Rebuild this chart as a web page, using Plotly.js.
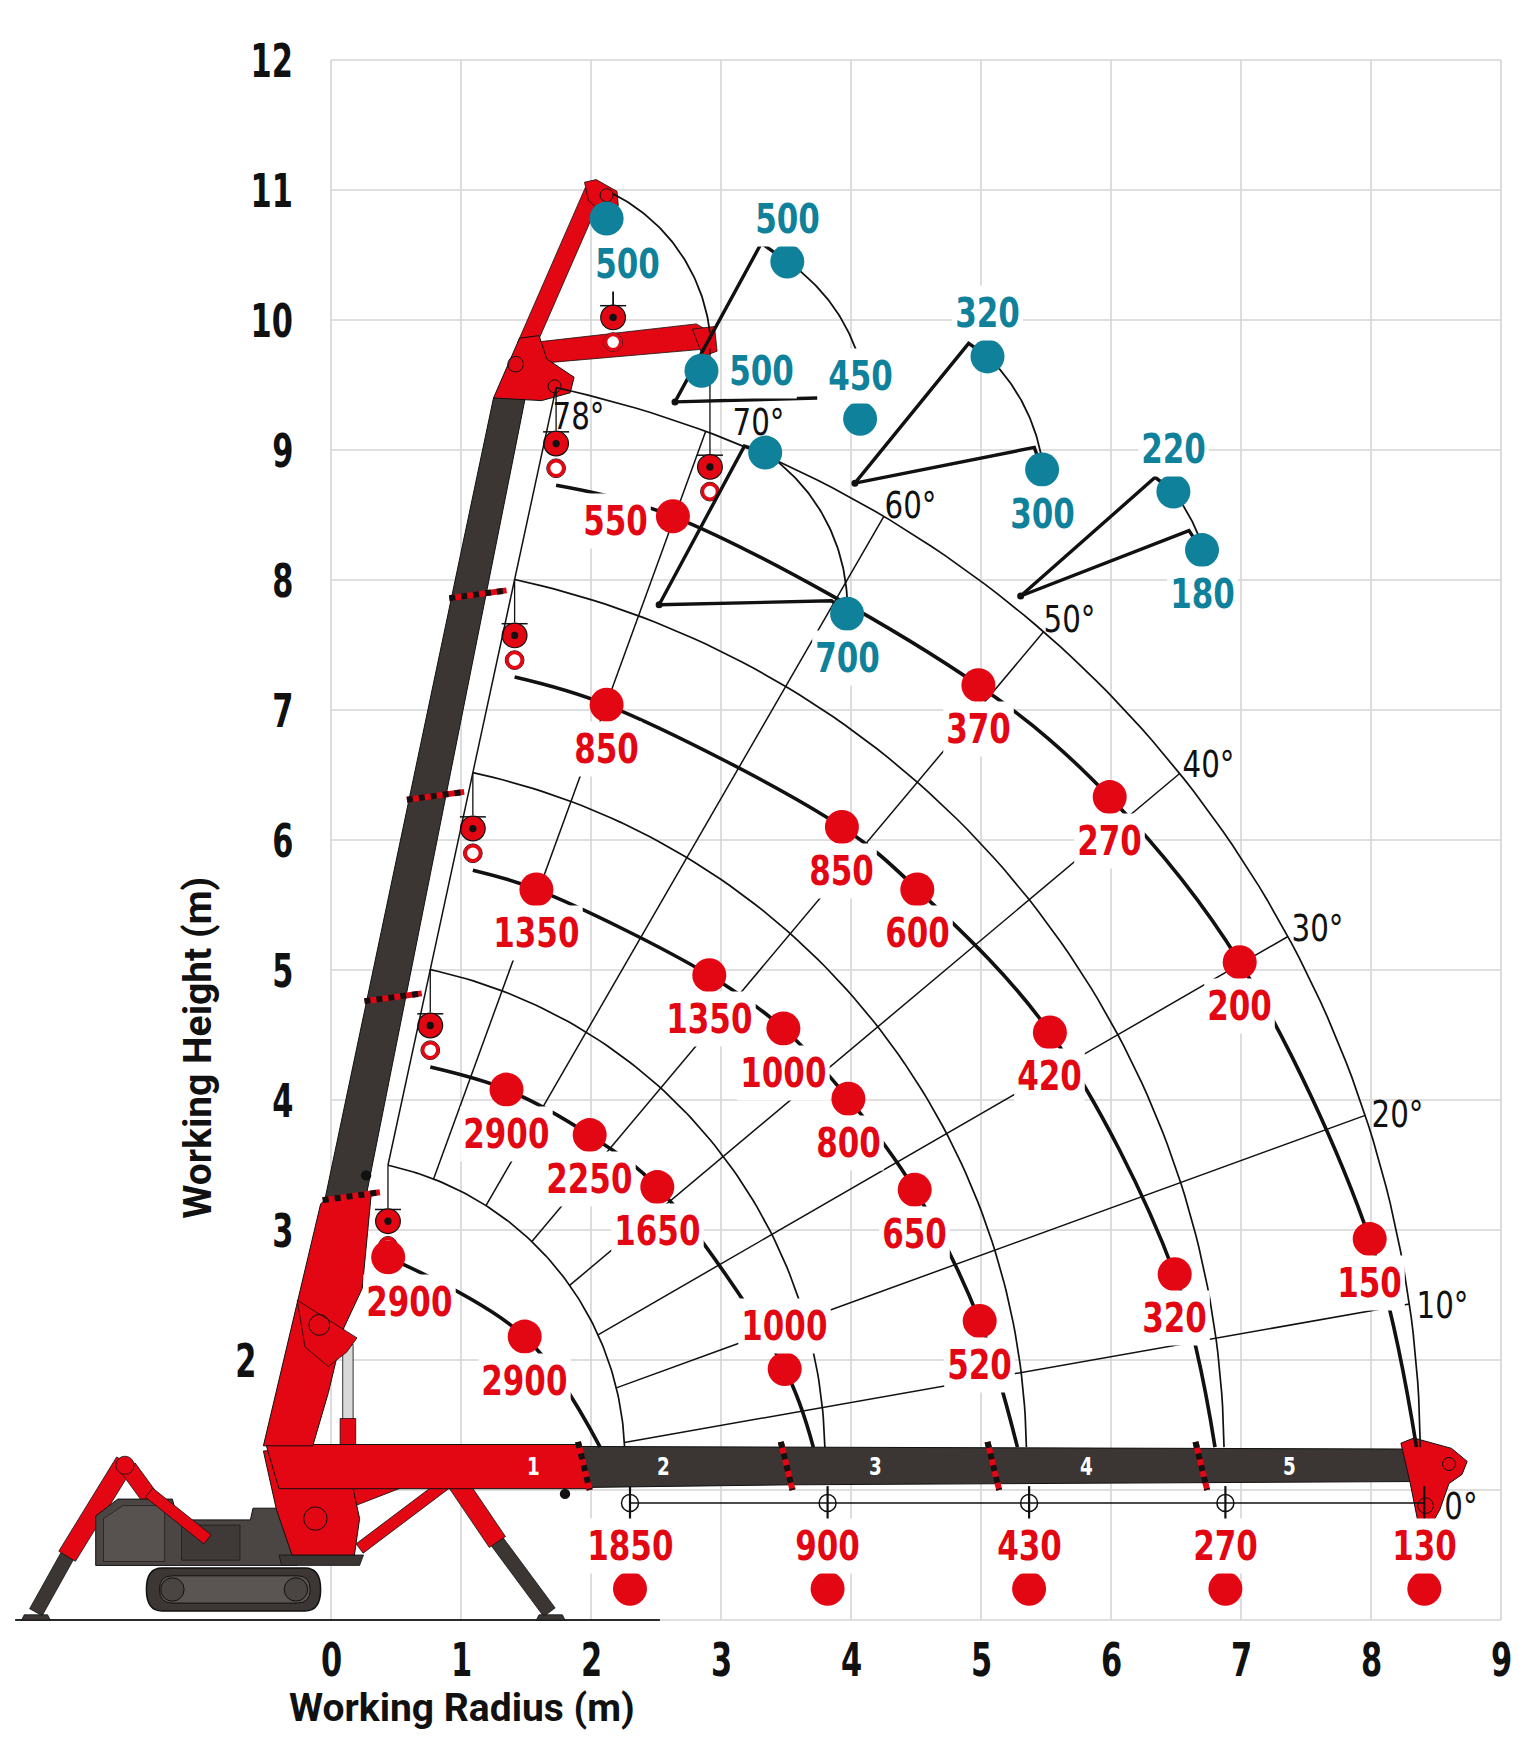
<!DOCTYPE html>
<html><head><meta charset="utf-8">
<script src="https://cdn.plot.ly/plotly-3.0.1.min.js"></script>
<style>html,body{margin:0;padding:0;background:#fff}#chart{width:1538px;height:1740px}</style>
</head><body><div id="chart"></div>
<script>
// ================= DATA =================
const radiusTicks = [0,1,2,3,4,5,6,7,8,9];
const heightTicks = [2,3,4,5,6,7,8,9,10,11,12];

// loads on each boom extension (kg) at working radius / height (m)
const ext1Radius = [0.44, 1.49];
const ext1Height = [2.79, 2.18];
const ext1Load   = [2900, 2900];
const ext2Radius = [1.35, 1.99, 2.51, 3.49];
const ext2Height = [4.08, 3.73, 3.33, 1.93];
const ext2Load   = [2900, 2250, 1650, 1000];
const ext3Radius = [1.58, 2.91, 3.48, 3.98, 4.49, 4.99];
const ext3Height = [5.62, 4.96, 4.55, 4.01, 3.31, 2.30];
const ext3Load   = [1350, 1350, 1000, 800, 650, 520];
const ext4Radius = [2.12, 3.93, 4.51, 5.53, 6.49];
const ext4Height = [7.04, 6.10, 5.62, 4.52, 2.66];
const ext4Load   = [850, 850, 600, 420, 320];
const ext5Radius = [2.63, 4.98, 5.99, 6.99, 7.99];
const ext5Height = [8.49, 7.19, 6.33, 5.06, 2.93];
const ext5Load   = [550, 370, 270, 200, 150];

// boom horizontal (0°) loads
const flatRadius = [2.30, 3.82, 5.37, 6.88, 8.41];
const flatHeight = [0.24, 0.24, 0.24, 0.24, 0.24];
const flatLoad   = [1850, 900, 430, 270, 130];

// jib (fly) loads
const jibRadius = [2.12, 2.85, 3.51, 4.07, 3.34, 3.97, 5.05, 5.47, 6.48, 6.70];
const jibHeight = [10.78, 9.61, 10.45, 9.24, 8.98, 7.74, 9.72, 8.85, 8.68, 8.23];
const jibLoad   = [500, 500, 500, 450, null, 700, 320, 300, 220, 180];

// boom geometry (m)
const boomRadii   = [2.31, 3.85, 5.40, 6.92, 8.43];
const hookPathEnd = [2.07, 3.71, 5.28, 6.80, 8.35];
const angleSteps  = [10, 20, 30, 40, 50, 60, 70];
const angleLabelX = [8.55, 8.20, 7.59, 6.75, 5.68, 4.46, 3.29];
const angleLabelY = [2.42, 3.89, 5.32, 6.58, 7.70, 8.57, 9.21];
const sectionNames = ['1','2','3','4','5'];
const sectionLabelX = [1.56, 2.56, 4.19, 5.81, 7.37];

// jib configurations
const jibPivotX = [2.646, 4.03, 5.305, 2.524];
const jibPivotY = [9.37, 8.745, 7.877, 7.81];
const jibTipX   = [3.31, 4.905, 6.34, 3.18];
const jibTipY   = [10.59, 9.82, 8.79, 9.03];
const jibFoldX  = [3.74, 5.41, 6.60, 3.85];
const jibFoldY  = [9.40, 9.02, 8.38, 7.84];
const jibUpperIdx = [2, 6, 8, 4];
const jibLowerIdx = [null, 7, 9, 5];
const jibArcEndX = [4.06, 5.47, 6.69, 3.97];
const jibArcEndY = [9.71, 8.92, 8.30, 7.86];

// label placement (b below, a above, l left, r right, br below-right)
const ext1Place = ['br','b'];
const ext2Place = ['b','b','b','a'];
const ext3Place = ['b','b','b','b','b','b'];
const ext4Place = ['b','b','b','b','b'];
const ext5Place = ['l','b','b','b','b'];
const flatPlace = ['a','a','a','a','a'];
const jibPlace  = ['br','r','a','a','','b','a','b','a','b'];

// ================= STYLE / HELPERS =================
const RED = '#e30613', TEAL = '#10819a', DARK = '#3b3634', GRID = '#d5d5d5', INK = '#111111';
const FONT_N = 'Liberation Sans Narrow, DejaVu Sans Condensed, Arial Narrow, Roboto, sans-serif';
const FONT_T = 'Roboto, Open Sans, Liberation Sans, sans-serif';
const ARC_C = [-0.05, 1.24], RAY_O = [-0.1, 0.95], TOP_ANG = 77.8, BOOM_TOP = 1.33;
const D2R = Math.PI / 180;

const shapes = [], annotations = [], annScale = [], data = [];
function f(v){return v.toFixed(3);}
function poly(pts){return 'M' + pts.map(p => f(p[0]) + ',' + f(p[1])).join(' L') + ' Z';}
function bar(a, b, w){const dx=b[0]-a[0], dy=b[1]-a[1], L=Math.hypot(dx,dy), nx=-dy/L*w/2, ny=dx/L*w/2;
  return poly([[a[0]+nx,a[1]+ny],[b[0]+nx,b[1]+ny],[b[0]-nx,b[1]-ny],[a[0]-nx,a[1]-ny]]);}
function addPath(path, fill, lc, lw){shapes.push({type:'path', xref:'x', yref:'y', path, fillcolor:fill,
  line:{color:lc || 'rgba(0,0,0,0)', width: lw || 0}, layer:'below'});}
function addLine(x0,y0,x1,y1,color,w,dash){shapes.push({type:'line', xref:'x', yref:'y', x0,y0,x1,y1,
  line:{color, width:w, dash: dash || 'solid'}, layer:'below'});}
function addCircle(cx,cy,r,fill,lc,lw){shapes.push({type:'circle', xref:'x', yref:'y', x0:cx-r, x1:cx+r, y0:cy-r, y1:cy+r,
  fillcolor:fill, line:{color:lc || 'rgba(0,0,0,0)', width: lw || 0}, layer:'below'});}
function addText(x,y,text,opts,scale,origin){annotations.push(Object.assign({x, y, xref:'x', yref:'y', text, showarrow:false,
  xanchor:'center', yanchor:'middle'}, opts)); annScale.push([scale || 1, origin || '50% 50%']);}
function lineTrace(xs, ys, w, color, shape){const t = {type:'scatter', mode:'lines', x:xs, y:ys,
  line:{color: color || INK, width:w, shape: shape || 'linear'}, hoverinfo:'skip', showlegend:false};
  if (shape === 'spline') t.line.smoothing = 1; data.push(t);}
function circleHit(o, d, c, r){const fx=o[0]-c[0], fy=o[1]-c[1]; const b=fx*d[0]+fy*d[1]; const cc=fx*fx+fy*fy-r*r;
  return -b + Math.sqrt(b*b - cc);}
function arcBetween(c, p0, p1, n){const r0=Math.hypot(p0[0]-c[0],p0[1]-c[1]), r1=Math.hypot(p1[0]-c[0],p1[1]-c[1]);
  const a0=Math.atan2(p0[1]-c[1],p0[0]-c[0]), a1=Math.atan2(p1[1]-c[1],p1[0]-c[0]); const xs=[], ys=[];
  for(let i=0;i<=n;i++){const t=i/n, a=a0+(a1-a0)*t, r=r0+(r1-r0)*t; xs.push(c[0]+r*Math.cos(a)); ys.push(c[1]+r*Math.sin(a));}
  return [xs, ys];}

// ================= GRID =================
radiusTicks.forEach(v => addLine(v, 0, v, 12, GRID, 1.6));
for (let v = 0; v <= 12; v++) addLine(0, v, 9, v, GRID, 1.6);
addLine(-2.43, 0, 2.53, 0, '#2b2b2b', 2);

// ================= CRANE ILLUSTRATION =================
// left outrigger
addPath(bar([-2.03,0.49],[-2.27,0.06],0.11), DARK, INK, 0.8);
addPath(bar([-1.585,1.215],[-2.03,0.49],0.15), RED, INK, 0.8);
addPath(poly([[-2.38,0.0],[-2.16,0.0],[-2.18,0.04],[-2.36,0.04]]), DARK, INK, 0.8);
addPath(bar([-1.56,1.17],[-1.05,0.47],0.13), RED, INK, 0.8);
// engine body
addPath(poly([[-1.81,0.42],[-1.81,0.80],[-1.64,0.93],[-1.22,0.93],[-1.18,0.77],[-0.62,0.77],[-0.60,0.86],[-0.40,0.86],[-0.38,0.77],[-0.28,0.77],[-0.26,0.42]]), '#4b4644', INK, 1);
addPath(poly([[-1.75,0.45],[-1.75,0.78],[-1.60,0.88],[-1.28,0.88],[-1.28,0.45]]), '#57514f', INK, 0.6);
addPath(poly([[-1.15,0.46],[-1.15,0.73],[-0.70,0.73],[-0.70,0.46]]), '#3f3a38', INK, 0.6);
addPath(bar([-1.40,0.98],[-0.95,0.62],0.09), RED, INK, 0.8);
addCircle(-1.585,1.19,0.07,RED,INK,0.8);
// tracks
addPath('M -1.30,0.07 L -0.20,0.07 Q -0.08,0.07 -0.08,0.235 Q -0.08,0.40 -0.20,0.40 L -1.30,0.40 Q -1.42,0.40 -1.42,0.235 Q -1.42,0.07 -1.30,0.07 Z', '#3c3735', INK, 1.5);
addPath('M -1.22,0.13 L -0.26,0.13 Q -0.16,0.13 -0.16,0.235 Q -0.16,0.34 -0.26,0.34 L -1.22,0.34 Q -1.32,0.34 -1.32,0.235 Q -1.32,0.13 -1.22,0.13 Z', '#5a5452', INK, 1);
addCircle(-1.22,0.235,0.09,'#4a4442',INK,1);
addCircle(-0.27,0.235,0.09,'#4a4442',INK,1);
// right outrigger
addPath(bar([0.22,0.55],[0.95,1.10],0.09), RED, INK, 0.8);
addPath(bar([1.28,0.60],[1.68,0.06],0.11), DARK, INK, 0.8);
addPath(bar([0.86,1.22],[1.28,0.60],0.15), RED, INK, 0.8);
addPath(poly([[1.58,0],[1.80,0],[1.78,0.04],[1.60,0.04]]), DARK, INK, 0.8);
addPath(bar([0.15,0.93],[0.90,1.22],0.12), RED, INK, 0.8);
addCircle(0.88,1.19,0.07,RED,INK,0.8);
// turret
addPath(poly([[-0.40,0.50],[0.25,0.50],[0.22,0.42],[-0.38,0.42]]), DARK, INK, 0.8);
addPath(poly([[-0.52,1.30],[-0.42,0.85],[-0.30,0.50],[0.18,0.50],[0.22,0.78],[0.17,1.01],[0.02,1.33]]), RED, INK, 1);
addCircle(-0.12,0.78,0.09,'rgba(0,0,0,0)',INK,1);
// luffing cylinder
addPath(poly([[0.09,1.53],[0.17,1.53],[0.17,2.12],[0.09,2.12]]), '#d9d9d9', '#333', 1);
addPath(poly([[0.07,1.33],[0.19,1.33],[0.19,1.55],[0.07,1.55]]), RED, INK, 0.8);
// horizontal boom (0°)
addPath(poly([[1.88,1.335],[8.30,1.315],[8.30,1.065],[3.55,1.04],[1.98,1.02]]), DARK, INK, 1);
addPath(poly([[-0.50,1.35],[1.92,1.35],[2.00,1.01],[-0.40,1.01]]), RED, INK, 1);
[1.90, 3.46, 5.05, 6.65].forEach(x => { addLine(x, 1.37, x+0.09, 1.0, RED, 6); addLine(x, 1.37, x+0.09, 1.0, INK, 6, 'dot'); });
addPath(poly([[8.23,1.36],[8.33,1.40],[8.62,1.32],[8.74,1.22],[8.70,1.12],[8.60,1.05],[8.53,0.85],[8.48,0.76],[8.36,0.76],[8.30,1.06]]), RED, INK, 1);
addCircle(8.60,1.20,0.05,'rgba(0,0,0,0)',INK,1);
addCircle(8.42,0.88,0.06,'rgba(0,0,0,0)',INK,1);
addCircle(1.80,0.97,0.04,INK,INK,0);
// upright boom
addPath(poly([[-0.52,1.34],[-0.08,3.20],[0.02,3.30],[0.31,3.28],[0.24,2.55],[0.10,2.25],[-0.02,1.75],[-0.14,1.34]]), RED, INK, 1);
addPath(poly([[-0.26,2.46],[0.20,2.17],[0.12,2.06],[-0.02,1.95],[-0.20,2.10]]), RED, INK, 0.8);
addCircle(-0.09,2.27,0.08,'rgba(0,0,0,0)',INK,1);
addPath(poly([[-0.05,3.22],[1.25,9.40],[1.50,9.43],[0.27,3.26]]), DARK, INK, 1);
addCircle(0.27,3.42,0.04,INK,INK,0);
[3.25, 4.78, 6.33, 7.88].forEach(y => { const xl = -0.05 + (y-3.22)*(1.30/6.18);
  addLine(xl-0.02, y-0.02, xl+0.42, y+0.04, RED, 6); addLine(xl-0.02, y-0.02, xl+0.42, y+0.04, INK, 6, 'dot'); });
// boom head and jib
addPath(bar([1.50,9.80],[2.02,10.99],0.14), RED, INK, 0.8);
addPath(poly([[1.95,11.06],[2.04,11.08],[2.20,10.99],[2.21,10.88],[2.08,10.83],[1.98,10.92]]), RED, INK, 0.8);
addCircle(2.12,10.96,0.05,'rgba(0,0,0,0)',INK,1);
addPath(poly([[1.58,9.83],[2.81,9.97],[2.93,9.90],[2.92,9.78],[1.65,9.67]]), RED, INK, 0.8);
addPath(poly([[2.78,9.93],[2.95,9.95],[2.97,9.76],[2.86,9.72]]), RED, INK, 0.8);
addPath(poly([[1.25,9.40],[1.45,9.86],[1.60,9.88],[1.66,9.70],[1.87,9.56],[1.84,9.44],[1.62,9.38]]), RED, INK, 1);
addCircle(1.42,9.66,0.06,'rgba(0,0,0,0)',INK,1);
addCircle(1.72,9.49,0.05,'rgba(0,0,0,0)',INK,1);

// hooks (blocks on ropes)
const tops = boomRadii.map(R => [ARC_C[0] + R*Math.cos(TOP_ANG*D2R), ARC_C[1] + R*Math.sin(TOP_ANG*D2R)]);
function hook(x, yc){
  addLine(x-0.10, yc+0.09, x+0.10, yc+0.09, INK, 1.5);
  addCircle(x, yc, 0.095, RED, INK, 1.2);
  addCircle(x, yc, 0.028, INK, INK, 0);
  addCircle(x, yc-0.19, 0.072, '#ffffff', INK, 1);
  addCircle(x, yc-0.19, 0.058, '#ffffff', RED, 3.5);
}
tops.forEach(t => hook(t[0], t[1]-0.43));
hook(2.17, 10.02);
hook(2.915, 8.87);

// ================= TRACES =================
// boom-tip arcs
boomRadii.forEach(R => {const a0 = Math.asin((BOOM_TOP-ARC_C[1])/R), a1 = TOP_ANG*D2R, xs=[], ys=[];
  for (let i=0;i<=90;i++){const a=a0+(a1-a0)*i/90; xs.push(ARC_C[0]+R*Math.cos(a)); ys.push(ARC_C[1]+R*Math.sin(a));}
  lineTrace(xs, ys, 1.7);});
// angle rays
angleSteps.forEach(a => {const d=[Math.cos(a*D2R), Math.sin(a*D2R)];
  const t1 = circleHit(RAY_O, d, ARC_C, boomRadii[0]), t5 = circleHit(RAY_O, d, ARC_C, boomRadii[4]);
  lineTrace([RAY_O[0]+t1*d[0], RAY_O[0]+t5*d[0]], [RAY_O[1]+t1*d[1], RAY_O[1]+t5*d[1]], 1.5);});
lineTrace([tops[0][0], tops[4][0]], [tops[0][1], tops[4][1]], 1.5);
// ropes
tops.forEach(t => lineTrace([t[0], t[0]], [t[1], t[1]-0.33], 1.3));
lineTrace([2.915, 2.915], [9.78, 8.97], 1.3);
lineTrace([2.17, 2.17], [10.24, 10.11], 1.8);
// hook load paths
const extR = [ext1Radius, ext2Radius, ext3Radius, ext4Radius, ext5Radius];
const extH = [ext1Height, ext2Height, ext3Height, ext4Height, ext5Height];
extR.forEach((rs, k) => {const hx = tops[k][0], hy = tops[k][1]-0.75; const xs=[], ys=[];
  if (Math.hypot(rs[0]-hx, extH[k][0]-hy) > 0.15){xs.push(hx); ys.push(hy);}
  rs.forEach((r,i)=>{xs.push(r); ys.push(extH[k][i]);});
  xs.push(hookPathEnd[k]); ys.push(BOOM_TOP);
  lineTrace(xs, ys, 3.6, INK, 'spline');});
// jib configurations
{const c=[1.55,9.75]; const a=arcBetween(c,[2.17,10.97],[2.915,9.90],60); lineTrace(a[0],a[1],1.8);}
jibPivotX.forEach((px,i) => {const py = jibPivotY[i], u = jibUpperIdx[i], l = jibLowerIdx[i];
  lineTrace([px, jibTipX[i], jibRadius[u]], [py, jibTipY[i], jibHeight[u]], 3.4);
  const fx=[px, jibFoldX[i]], fy=[py, jibFoldY[i]]; if (l !== null){fx.push(jibRadius[l]); fy.push(jibHeight[l]);}
  lineTrace(fx, fy, 3.4);
  const a = arcBetween([px,py],[jibRadius[u],jibHeight[u]],[jibArcEndX[i],jibArcEndY[i]],50); lineTrace(a[0],a[1],1.8);});
// flat (0°) hook line
lineTrace([flatRadius[0], flatRadius[flatRadius.length-1]], [0.90, 0.90], 1.5);
flatRadius.forEach(x => lineTrace([x, x], [1.03, 0.74], 2.2));
data.push({type:'scatter', mode:'markers', x:flatRadius.slice(0,4), y:flatRadius.slice(0,4).map(()=>0.90),
  marker:{symbol:'circle-open', size:17, color:INK, line:{width:1.5, color:INK}}, hoverinfo:'skip', showlegend:false});
flatRadius.forEach(x => lineTrace([x-0.06, x-0.05, x+0.05, x+0.06], [0.43, 0.37, 0.37, 0.43], 2));
// dots
const allRedR = [].concat(ext1Radius, ext2Radius, ext3Radius, ext4Radius, ext5Radius, flatRadius);
const allRedH = [].concat(ext1Height, ext2Height, ext3Height, ext4Height, ext5Height, flatHeight);
data.push({type:'scatter', mode:'markers', x:allRedR, y:allRedH, marker:{size:34, color:RED}, hoverinfo:'skip', showlegend:false});
data.push({type:'scatter', mode:'markers', x:jibRadius, y:jibHeight, marker:{size:34, color:TEAL}, hoverinfo:'skip', showlegend:false});
data.push({type:'scatter', mode:'markers', x:jibPivotX, y:jibPivotY, marker:{size:7, color:INK}, hoverinfo:'skip', showlegend:false});

// ================= TEXT =================
const SHIFT = {b:[0,-44], a:[0,43], l:[-57,-5], r:[60,0], br:[21,-45]};
function labelSeries(xs, ys, vals, places, color){vals.forEach((v,i) => {if (v == null || !places[i]) return;
  const s = SHIFT[places[i]]; addText(xs[i], ys[i], '<b>'+v+'</b>', {xshift:s[0], yshift:s[1],
    font:{family:FONT_N, size:41, color}, bgcolor:'#ffffff', borderpad:3}, 0.84);});}
labelSeries(ext1Radius, ext1Height, ext1Load, ext1Place, RED);
labelSeries(ext2Radius, ext2Height, ext2Load, ext2Place, RED);
labelSeries(ext3Radius, ext3Height, ext3Load, ext3Place, RED);
labelSeries(ext4Radius, ext4Height, ext4Load, ext4Place, RED);
labelSeries(ext5Radius, ext5Height, ext5Load, ext5Place, RED);
labelSeries(flatRadius, flatHeight, flatLoad, flatPlace, RED);
labelSeries(jibRadius, jibHeight, jibLoad, jibPlace, TEAL);

angleSteps.forEach((a,i) => addText(angleLabelX[i], angleLabelY[i], a+'°', {font:{family:FONT_N, size:37, color:INK}}, 0.88));
addText(1.90, 9.26, '78°', {font:{family:FONT_N, size:37, color:INK}}, 0.88);
addText(8.69, 0.87, '0°', {font:{family:FONT_N, size:37, color:INK}}, 0.88);
sectionNames.forEach((s,i) => addText(sectionLabelX[i], 1.18, '<b>'+s+'</b>', {font:{family:FONT_N, size:24, color:'#ffffff'}}, 0.85));

radiusTicks.forEach(v => addText(v, -0.30, '<b>'+v+'</b>', {font:{family:FONT_N, size:47, color:INK}}, 0.72));
heightTicks.forEach(v => addText(v === 2 ? -0.56 : -0.28, v, '<b>'+v+'</b>', {xanchor:'right', font:{family:FONT_N, size:47, color:INK}}, 0.72, '100% 50%'));
addText(1.01, -0.68, '<b>Working Radius (m)</b>', {font:{family:FONT_T, size:39, color:INK}});
addText(-1.025, 4.40, '<b>Working Height (m)</b>', {textangle:-90, font:{family:FONT_T, size:39, color:INK}});

const layout = {
  width:1538, height:1740, margin:{l:0, r:0, t:0, b:0}, paper_bgcolor:'#ffffff', plot_bgcolor:'#ffffff',
  xaxis:{range:[-2.5462, 9.2846], visible:false, fixedrange:true},
  yaxis:{range:[-0.9231, 12.4615], visible:false, fixedrange:true},
  shapes, annotations, showlegend:false, hovermode:false
};
function condense(){
  document.querySelectorAll('g.annotation').forEach(g => {
    const i = +g.getAttribute('data-index'); const sc = annScale[i]; if (!sc || sc[0] === 1) return;
    g.querySelectorAll('text.annotation-text, rect.bg').forEach(el => {
      el.style.transformBox = 'fill-box'; el.style.transformOrigin = sc[1]; el.style.transform = 'scaleX(' + sc[0] + ')';
    });
  });
}
Plotly.newPlot('chart', data, layout, {staticPlot:true, displayModeBar:false}).then(condense);
</script></body></html>
